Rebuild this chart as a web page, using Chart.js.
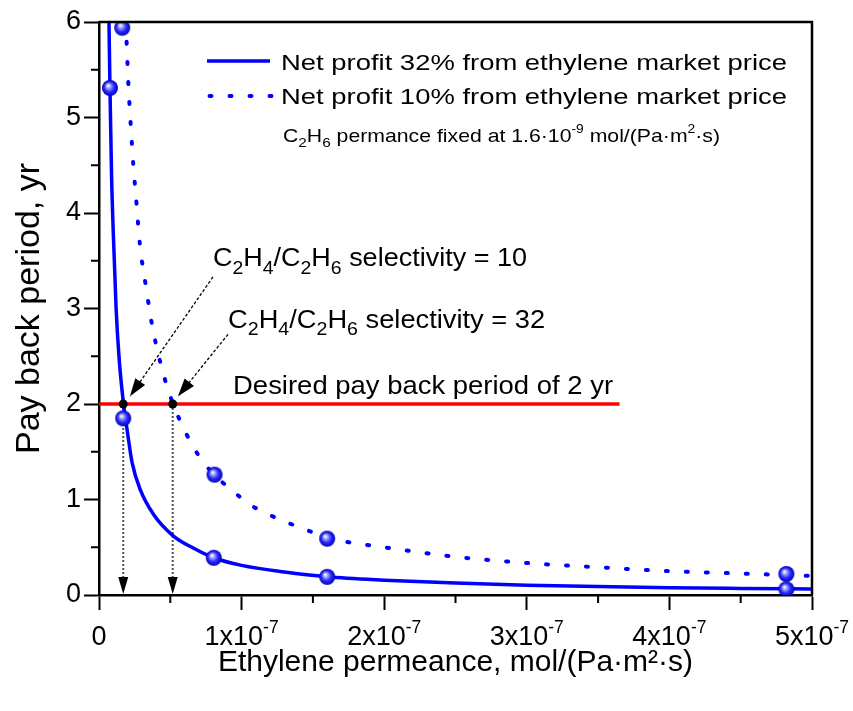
<!DOCTYPE html>
<html>
<head>
<meta charset="utf-8">
<script src="https://cdn.jsdelivr.net/npm/chart.js@4.4.0/dist/chart.umd.min.js"></script>
<style>
  html, body { margin: 0; padding: 0; background: #fff; }
</style>
</head>
<body>
<canvas id="payback" width="853" height="711"></canvas>
<script>
// ethylene permeance in mol/(Pa·m²·s), pay back period in years
const fit32X = [7.0e-9, 7.7e-9, 8.8e-9, 1.0e-8, 1.2e-8, 1.4e-8, 1.72e-8, 2.0e-8, 2.33e-8, 2.9e-8, 3.84e-8, 5.2e-8, 6.64e-8, 8.05e-8, 1.0e-7, 1.3e-7, 1.6e-7, 2.0e-7, 2.5e-7, 3.0e-7, 3.5e-7, 4.0e-7, 4.5e-7, 5.0e-7];
const fit32Y = [6.0, 5.3, 4.4, 3.8, 3.0, 2.5, 2.0, 1.7, 1.38, 1.1, 0.84, 0.62, 0.49, 0.39, 0.31, 0.24, 0.19, 0.155, 0.125, 0.103, 0.088, 0.077, 0.069, 0.062];

const fit10X = [1.86e-8, 1.93e-8, 2.05e-8, 2.21e-8, 2.40e-8, 2.63e-8, 2.86e-8, 3.28e-8, 3.73e-8, 4.38e-8, 4.80e-8, 5.22e-8, 5.92e-8, 6.69e-8, 8.0e-8, 9.15e-8, 1.055e-7, 1.195e-7, 1.335e-7, 1.475e-7, 1.6e-7, 2.0e-7, 2.5e-7, 3.0e-7, 3.5e-7, 4.0e-7, 4.5e-7, 5.0e-7];
const fit10Y = [6.0, 5.81, 5.38, 4.96, 4.52, 4.10, 3.68, 3.24, 2.82, 2.39, 2.17, 1.99, 1.75, 1.53, 1.27, 1.12, 0.95, 0.84, 0.75, 0.67, 0.60, 0.50, 0.40, 0.335, 0.29, 0.25, 0.225, 0.20];

// simulated points (spheres)
const sim32X = [7.7e-9, 1.7e-8, 8.05e-8, 1.6e-7, 4.82e-7];
const sim32Y = [5.31, 1.85, 0.39, 0.19, 0.06];
const sim10X = [1.63e-8, 8.1e-8, 1.6e-7, 4.82e-7];
const sim10Y = [5.94, 1.26, 0.59, 0.22];

// desired pay back period and where the two curves reach it
const targetPayback = 2;
const targetLineEnd = 3.65e-7;
const crossX = [1.70e-8, 5.17e-8];

const xTickLabels = ['0', '1x10^{-7}', '2x10^{-7}', '3x10^{-7}', '4x10^{-7}', '5x10^{-7}'];

// annotation texts, anchored in data units (left edge, baseline)
const notes = [
    { text: 'C_{2}H_{4}/C_{2}H_{6} selectivity = 10', x: 7.99e-8, y: 3.44, size: 26, w: 314 },
    { text: 'C_{2}H_{4}/C_{2}H_{6} selectivity = 32', x: 9.05e-8, y: 2.80, size: 26, w: 317 },
    { text: 'Desired pay back period of 2 yr', x: 9.40e-8, y: 2.10, size: 26, w: 380 }
];
// dashed pointers from the notes to the crossing points
const pointers = [
    { x0: 7.99e-8, y0: 3.33, x1: 2.17e-8, y1: 2.08 },
    { x0: 9.05e-8, y0: 2.73, x1: 5.54e-8, y1: 2.08 }
];

const FONT = '"Liberation Sans", Arial, Helvetica, sans-serif';
const BLUE = '#0000ff';

Chart.defaults.font.family = FONT;
Chart.defaults.color = '#000';

const parseRich = (s) => {
    const out = [];
    const re = /([_^])\{([^}]*)\}/g;
    let last = 0, m;
    while ((m = re.exec(s))) {
        if (m.index > last) out.push({ t: s.slice(last, m.index), k: '' });
        out.push({ t: m[2], k: m[1] });
        last = re.lastIndex;
    }
    if (last < s.length) out.push({ t: s.slice(last), k: '' });
    return out;
};

// draws text with sub/superscripts; w (optional) = width to fit
const drawRich = (ctx, s, x, y, size, w, center) => {
    const parts = parseRich(s);
    let total = 0;
    parts.forEach(p => {
        p.size = p.k === '^' ? size * 0.65 : p.k === '_' ? size * 0.72 : size;
        ctx.font = p.size + 'px ' + FONT;
        p.w = ctx.measureText(p.t).width;
        total += p.w;
    });
    const sx = w ? w / total : 1;
    ctx.save();
    ctx.translate(center ? x - total * sx / 2 : x, y);
    ctx.scale(sx, 1);
    ctx.fillStyle = '#000';
    ctx.textAlign = 'left';
    ctx.textBaseline = 'alphabetic';
    let cx = 0;
    parts.forEach(p => {
        ctx.font = p.size + 'px ' + FONT;
        const dy = p.k === '^' ? -size * 0.43 : p.k === '_' ? size * 0.28 : 0;
        ctx.fillText(p.t, cx, dy);
        cx += p.w;
    });
    ctx.restore();
};

const arrowHead = (ctx, x0, y0, x1, y1, len, half) => {
    const a = Math.atan2(y1 - y0, x1 - x0);
    ctx.save();
    ctx.setLineDash([]);
    ctx.fillStyle = '#000';
    ctx.translate(x1, y1);
    ctx.rotate(a);
    ctx.beginPath();
    ctx.moveTo(0, 0);
    ctx.lineTo(-len, -half);
    ctx.lineTo(-len, half);
    ctx.closePath();
    ctx.fill();
    ctx.restore();
};

const makeSphere = (r) => {
    const c = document.createElement('canvas');
    c.width = c.height = 2 * r + 2;
    const g = c.getContext('2d');
    const cx = r + 1, cy = r + 1;
    const grad = g.createRadialGradient(cx - r * 0.25, cy - r * 0.3, r * 0.05, cx, cy, r);
    grad.addColorStop(0, '#ffffff');
    grad.addColorStop(0.25, '#a0a0ff');
    grad.addColorStop(0.6, '#2a2aff');
    grad.addColorStop(1, '#0000b8');
    g.fillStyle = grad;
    g.beginPath();
    g.arc(cx, cy, r, 0, Math.PI * 2);
    g.fill();
    return c;
};
const sphere = makeSphere(8);

const toPoints = (xs, ys) => xs.map((v, i) => ({ x: v, y: ys[i] }));

const extras = {
    id: 'extras',
    beforeDatasetsDraw(chart) {
        const { ctx, scales: { x, y } } = chart;
        ctx.save();
        // dotted drop lines to the x axis
        crossX.forEach(v => {
            const px = x.getPixelForValue(v);
            const top = y.getPixelForValue(targetPayback);
            const bot = y.getPixelForValue(0);
            ctx.strokeStyle = '#555';
            ctx.lineWidth = 2;
            ctx.setLineDash([2, 2]);
            ctx.beginPath();
            ctx.moveTo(px, top);
            ctx.lineTo(px, bot - 12);
            ctx.stroke();
            arrowHead(ctx, px, top, px, bot - 1, 17, 5);
        });
        // dashed pointers from the labels
        pointers.forEach(p => {
            const x0 = x.getPixelForValue(p.x0), y0 = y.getPixelForValue(p.y0);
            const x1 = x.getPixelForValue(p.x1), y1 = y.getPixelForValue(p.y1);
            ctx.strokeStyle = '#000';
            ctx.lineWidth = 1.3;
            ctx.setLineDash([3, 2]);
            ctx.beginPath();
            ctx.moveTo(x0, y0);
            ctx.lineTo(x1, y1);
            ctx.stroke();
            arrowHead(ctx, x0, y0, x1, y1, 18, 6);
        });
        ctx.restore();
    },
    afterDraw(chart) {
        const { ctx, chartArea: ca, scales: { x, y } } = chart;
        ctx.save();
        ctx.setLineDash([]);
        ctx.strokeStyle = '#000';
        // frame top and right
        ctx.lineWidth = 2.5;
        ctx.beginPath();
        ctx.moveTo(ca.left, ca.top);
        ctx.lineTo(ca.right, ca.top);
        ctx.lineTo(ca.right, ca.bottom);
        ctx.stroke();
        // minor ticks
        ctx.lineWidth = 2;
        ctx.beginPath();
        for (let i = 0; i < 5; i++) {
            const px = x.getPixelForValue((i + 0.5) * 1e-7);
            ctx.moveTo(px, ca.bottom);
            ctx.lineTo(px, ca.bottom + 8);
        }
        for (let i = 0; i < 6; i++) {
            const py = y.getPixelForValue(i + 0.5);
            ctx.moveTo(ca.left, py);
            ctx.lineTo(ca.left - 8, py);
        }
        ctx.stroke();
        // x tick labels with exponents
        x.ticks.forEach((t, i) => {
            if (xTickLabels[i] === undefined) return;
            drawRich(ctx, xTickLabels[i], x.getPixelForValue(t.value), ca.bottom + 50, 27, 0, true);
        });
        // legend
        ctx.strokeStyle = BLUE;
        ctx.lineWidth = 3.5;
        ctx.beginPath();
        ctx.moveTo(ca.left + 108, ca.top + 39);
        ctx.lineTo(ca.left + 171, ca.top + 39);
        ctx.stroke();
        ctx.lineWidth = 4;
        ctx.lineCap = 'round';
        ctx.setLineDash([2, 18]);
        ctx.beginPath();
        ctx.moveTo(ca.left + 110.5, ca.top + 74);
        ctx.lineTo(ca.left + 174, ca.top + 74);
        ctx.stroke();
        ctx.setLineDash([]);
        drawRich(ctx, 'Net profit 32% from ethylene market price', ca.left + 182, ca.top + 48, 22.5, 506);
        drawRich(ctx, 'Net profit 10% from ethylene market price', ca.left + 182, ca.top + 81.5, 22.5, 506);
        drawRich(ctx, 'C_{2}H_{6} permance fixed at 1.6·10^{-9} mol/(Pa·m^{2}·s)', ca.left + 184, ca.top + 119.5, 19, 437);
        // annotations
        notes.forEach(n => {
            drawRich(ctx, n.text, x.getPixelForValue(n.x), y.getPixelForValue(n.y), n.size, n.w);
        });
        ctx.restore();
    }
};

const config = {
    type: 'line',
    data: {
        datasets: [
            {
                label: 'Net profit 32% from ethylene market price',
                data: toPoints(fit32X, fit32Y),
                borderColor: BLUE,
                borderWidth: 3.5,
                pointRadius: 0,
                cubicInterpolationMode: 'monotone',
                order: 4
            },
            {
                label: 'Net profit 10% from ethylene market price',
                data: toPoints(fit10X, fit10Y),
                borderColor: BLUE,
                borderWidth: 4,
                borderDash: [2, 18],
                borderCapStyle: 'round',
                pointRadius: 0,
                cubicInterpolationMode: 'monotone',
                order: 4
            },
            {
                label: 'Desired pay back period of 2 yr',
                data: [{ x: 0, y: targetPayback }, { x: targetLineEnd, y: targetPayback }],
                borderColor: '#ff0000',
                borderWidth: 3.5,
                pointRadius: 0,
                order: 3
            },
            {
                type: 'scatter',
                label: 'sim 32%',
                data: toPoints(sim32X, sim32Y),
                pointStyle: sphere,
                pointRadius: 8,
                showLine: false,
                order: 2
            },
            {
                type: 'scatter',
                label: 'sim 10%',
                data: toPoints(sim10X, sim10Y),
                pointStyle: sphere,
                pointRadius: 8,
                showLine: false,
                order: 2
            },
            {
                type: 'scatter',
                label: 'crossings',
                data: crossX.map(v => ({ x: v, y: targetPayback })),
                pointStyle: 'circle',
                pointRadius: 4.5,
                backgroundColor: '#000',
                borderColor: '#000',
                borderWidth: 0,
                showLine: false,
                order: 1
            }
        ]
    },
    options: {
        responsive: false,
        animation: false,
        events: [],
        layout: { padding: { top: 22, right: 41, left: 0, bottom: 0 } },
        plugins: {
            legend: { display: false },
            tooltip: { enabled: false }
        },
        scales: {
            x: {
                type: 'linear',
                min: 0,
                max: 5e-7,
                ticks: { stepSize: 1e-7, display: false },
                grid: { drawOnChartArea: false, drawTicks: true, tickLength: 15, tickWidth: 2, color: '#000' },
                border: { color: '#000', width: 2.5 },
                title: {
                    display: true,
                    text: 'Ethylene permeance, mol/(Pa·m²·s)',
                    font: { size: 30 },
                    padding: { top: 0, bottom: 30 }
                },
                afterFit: (s) => { s.height = 116; }
            },
            y: {
                type: 'linear',
                min: 0,
                max: 6,
                ticks: { stepSize: 1, padding: 3, font: { size: 27 }, autoSkip: false },
                grid: { drawOnChartArea: false, drawTicks: true, tickLength: 15, tickWidth: 2, color: '#000' },
                border: { color: '#000', width: 2.5 },
                title: {
                    display: true,
                    text: 'Pay back period, yr',
                    font: { size: 34 },
                    padding: { top: 9, bottom: 0 }
                },
                afterFit: (s) => { s.width = 99; }
            }
        }
    },
    plugins: [extras]
};

const paybackChart = new Chart(document.getElementById('payback'), config);
</script>
</body>
</html>
